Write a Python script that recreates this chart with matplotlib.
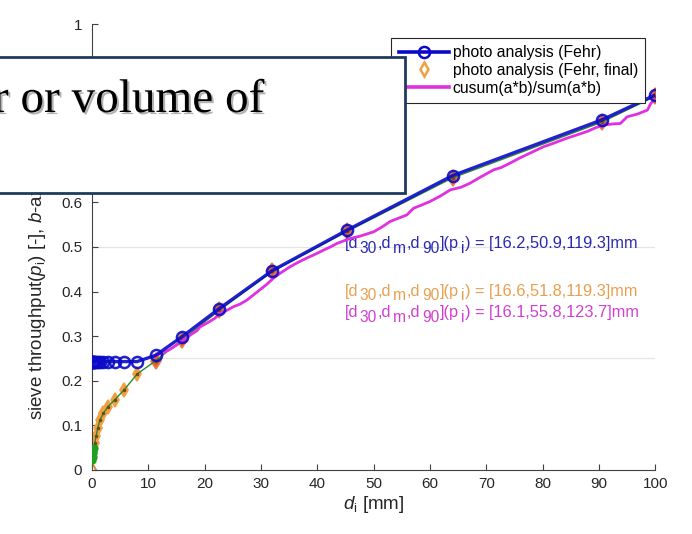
import matplotlib
matplotlib.use('Agg')
import matplotlib.pyplot as plt
import matplotlib.patheffects as pe
from matplotlib.lines import Line2D
from matplotlib.patches import Rectangle
import numpy as np

plt.rcParams['font.family'] = ['Liberation Sans', 'DejaVu Sans']
plt.rcParams['mathtext.fontset'] = 'custom'
plt.rcParams['mathtext.rm'] = 'Liberation Sans'
plt.rcParams['mathtext.it'] = 'Liberation Sans:italic'

# sieve sizes d_i [mm]
d = [0, 0.0625, 0.125, 0.177, 0.25, 0.354, 0.5, 0.71, 1, 1.41, 2, 2.83, 4, 5.66, 8,
     11.3, 16, 22.6, 32, 45.3, 64, 90.5, 100]
# photo analysis (Fehr)
p_fehr = [0.243, 0.243, 0.243, 0.243, 0.243, 0.243, 0.243, 0.243, 0.243, 0.243, 0.243,
          0.243, 0.243, 0.243, 0.243, 0.257, 0.299, 0.362, 0.447, 0.538, 0.660, 0.785, 0.841]
# photo analysis (Fehr, final)
p_final = [0, 0.022, 0.030, 0.037, 0.043, 0.050, 0.060, 0.075, 0.094, 0.112, 0.127,
           0.142, 0.157, 0.179, 0.215, 0.245, 0.292, 0.358, 0.445, 0.535, 0.655, 0.780, 0.838]
# cusum(a*b)/sum(a*b)
d_cs = [11.0, 12.5, 13.8, 15.0, 16.2, 17.5, 18.6, 19.2, 20.5, 21.8, 22.7, 23.8, 25.1, 26.3,
        27.5, 28.6, 29.8, 31.0, 32.2, 33.5, 35.2, 36.5, 38.1, 39.5, 41.1, 42.3, 43.5, 45.8,
        47.5, 50.0, 51.5, 52.9, 54.5, 55.9, 57.1, 58.5, 60.0, 61.8, 63.6, 65.5, 67.1, 69.0,
        71.3, 72.6, 74.2, 76.0, 78.0, 80.2, 82.0, 84.3, 86.0, 87.9, 89.5, 91.1, 92.5, 93.8,
        95.0, 96.8, 98.6, 99.2, 100.0]
p_cs = [0.255, 0.262, 0.270, 0.280, 0.291, 0.303, 0.312, 0.321, 0.330, 0.340, 0.351, 0.357,
        0.366, 0.372, 0.381, 0.392, 0.404, 0.416, 0.430, 0.442, 0.456, 0.465, 0.475, 0.483,
        0.493, 0.500, 0.508, 0.519, 0.524, 0.534, 0.545, 0.557, 0.565, 0.572, 0.587, 0.594,
        0.602, 0.614, 0.628, 0.634, 0.643, 0.657, 0.673, 0.678, 0.688, 0.700, 0.712, 0.725,
        0.733, 0.744, 0.751, 0.759, 0.768, 0.774, 0.776, 0.777, 0.792, 0.798, 0.807, 0.822,
        0.833]

# characteristic diameters [d30, dm, d90] for the three curves
dchar_vals = ['[16.2,50.9,119.3]mm', '[16.6,51.8,119.3]mm', '[16.1,55.8,123.7]mm']

# y tick labels (0.7-0.9 are hidden behind the text box)
ytick_labels = ['0', '0.1', '0.2', '0.3', '0.4', '0.5', '0.6', '', '', '', '1']

blue = '#0a0ac8'
orange = '#f0a040'
magenta = '#e030e0'
green = '#2a8a2a'


def dchar_text(ax, x, y, value, color, size=11.8, subsize=11.2, gap=1.2):
    # text with MATLAB-like large subscripts, built piece by piece
    pieces = [('[d', 0), ('30', 1), (',d', 0), ('m', 1), (',d', 0), ('90', 1),
              ('](p', 0), ('i', 1), (') = ' + value, 0)]
    t0 = ax.text(x, y, pieces[0][0], color=color, fontsize=size, va='center')
    prev = t0
    for s, sub in pieces[1:]:
        prev = ax.annotate(s, xy=(1, 0), xycoords=(prev, t0),
                           xytext=(gap if sub else 0.6, -3.4 if sub else 0),
                           textcoords='offset points',
                           va='bottom', color=color, fontsize=subsize if sub else size)


fig = plt.figure(figsize=(6.92, 5.34), dpi=100)
ax = fig.add_axes([0.133, 0.12, 0.814, 0.835])

ax.axhline(0.25, color='#e4e4e4', lw=0.9, zorder=0)
ax.axhline(0.5, color='#e4e4e4', lw=0.9, zorder=0)

# final (orange diamonds), small sizes in orange, larger in red-orange
ax.plot([d[0]] + d[6:15], [p_final[0]] + p_final[6:15], 'd', ms=7, mfc=orange, mec=orange,
        mew=1.2, zorder=2)
ax.plot([d[0]], [p_final[0]], 'd', ms=7, mfc='white', mec='#f08040', mew=1.4, zorder=2)
ax.plot(d[15:], p_final[15:], 'd', ms=8, mfc='#e85a30', mec='#e88040', mew=1.2, zorder=2)
# green helper line
ax.plot(d, p_final, '-', color=green, lw=1, zorder=3)
ax.plot(d[1:6], p_final[1:6], 'o', color='#20a020', ms=5, zorder=3)
ax.plot(d[6:], p_final[6:], '.', color='#6a4a20', ms=3, zorder=3)

ax.plot(d_cs, p_cs, '-', color=magenta, lw=2, zorder=4)
ax.plot(d, p_fehr, '-o', color=blue, lw=2.4, ms=8, mfc='none', mec=blue, mew=1.8,
        zorder=5, alpha=0.9)

dchar_text(ax, 44.8, 0.507, dchar_vals[0], '#2a2ab0')
dchar_text(ax, 44.8, 0.401, dchar_vals[1], '#e8a050')
dchar_text(ax, 44.8, 0.352, dchar_vals[2], '#d040d0')

ax.set_xlim(0, 100)
ax.set_ylim(0, 1)
ax.set_xticks(np.arange(0, 101, 10))
ax.set_yticks(np.arange(0, 1.01, 0.1))
ax.set_yticklabels(ytick_labels)
ax.spines['top'].set_visible(False)
ax.spines['right'].set_visible(False)
for s in ['left', 'bottom']:
    ax.spines[s].set_color('#404040')
    ax.spines[s].set_linewidth(0.8)
ax.tick_params(direction='in', length=4, color='#404040', labelcolor='#262626', labelsize=11)
ax.tick_params(axis='y', pad=7)
ax.tick_params(axis='x', pad=5)
ax.set_xlabel('$d_{\\rm i}$ [mm]', fontsize=13.5, color='#262626', labelpad=2)
ax.set_ylabel('sieve throughput($p_{\\rm i}$) [-], $b$-axis [-]', fontsize=13.5,
              color='#262626', ha='left', va='center')
ax.yaxis.set_label_coords(-0.096, 0.112)

handles = [Line2D([], [], color=blue, lw=2.6, marker='o', ms=8, mfc='none', mew=1.8),
           Line2D([], [], ls='none', marker='d', ms=7, mfc='white', mec=orange, mew=1.8),
           Line2D([], [], color=magenta, lw=2.6)]
leg = ax.legend(handles, ['photo analysis (Fehr)', 'photo analysis (Fehr, final)',
                          'cusum(a*b)/sum(a*b)'],
                loc='upper right', bbox_to_anchor=(645 / 692, (534 - 38) / 534),
                bbox_transform=fig.transFigure, borderaxespad=0, fontsize=11.3,
                fancybox=False, framealpha=1, edgecolor='#262626', handlelength=3.2,
                labelspacing=0.18, borderpad=0.45, handletextpad=0.25)
leg.get_frame().set_linewidth(0.8)

# overlaid text box
box = Rectangle((-0.02, 0.6386), 0.605, 0.2546, transform=fig.transFigure,
                facecolor='white', edgecolor='#1f3a5f', lw=2, zorder=10)
fig.add_artist(box)
t = fig.text(265 / 692, (534 - 112) / 534, 'number or volume of', ha='right',
             va='baseline', fontsize=34, family='Liberation Serif', zorder=11)
t.set_path_effects([pe.withSimplePatchShadow(offset=(1.5, -1.5), shadow_rgbFace='#808080',
                                             alpha=0.6)])

fig.savefig('out.png', dpi=100)
